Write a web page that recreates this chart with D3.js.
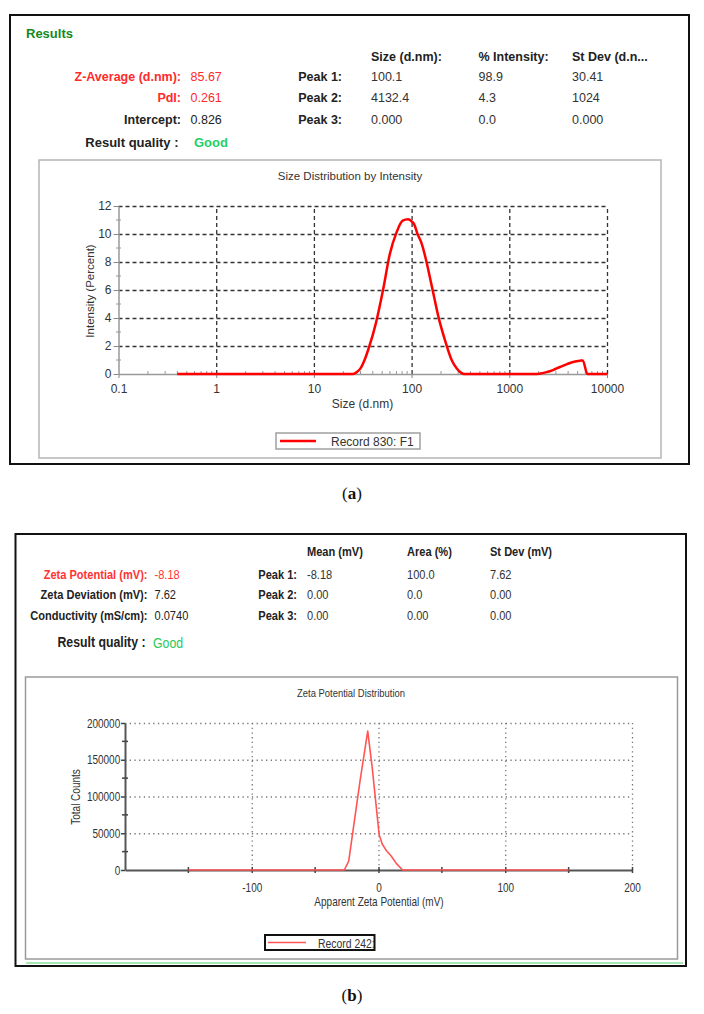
<!DOCTYPE html>
<html>
<head>
<meta charset="utf-8">
<script src="https://cdn.jsdelivr.net/npm/d3@7"></script>
<style>
  html, body { margin: 0; padding: 0; background: #fff; }
  svg { display: block; }
  text { font-family: Arial, "Liberation Sans", sans-serif; }
</style>
</head>
<body>
<svg id="fig" width="704" height="1014"></svg>
<script>
// ---------- DATA: panel (a) size distribution ----------
const sizeNm = [0.4, 25, 27, 30, 33, 37, 43, 51, 60, 70, 81, 92, 100, 106, 115, 127, 140, 154, 170, 188, 220, 257, 290, 320, 345, 1900, 2300, 2800, 3300, 3900, 4600, 5300, 5650, 6300, 10000];
const intensityPct = [0, 0, 0.1, 0.4, 1.0, 2.0, 3.6, 6.0, 8.6, 10.1, 10.95, 11.05, 10.9, 10.7, 10.0, 9.3, 8.2, 6.9, 5.5, 4.1, 2.4, 1.0, 0.4, 0.1, 0, 0, 0.1, 0.28, 0.5, 0.71, 0.88, 0.95, 0.97, 0, 0];
const sizeTicks = [0.1, 1, 10, 100, 1000, 10000];
const intensityTicks = [0, 2, 4, 6, 8, 10, 12];
const intensityMinor = [1, 3, 5, 7, 9, 11];

// ---------- DATA: panel (b) zeta potential ----------
const zetaMv = [-150, -27, -23.5, -20, -14.5, -8.5, -5, -2, 0.5, 3, 6, 10, 14, 19, 150];
const totalCounts = [0, 0, 12000, 55000, 122000, 189000, 140000, 90000, 48000, 35000, 27000, 19000, 9000, 0, 0];
const zetaTicks = [-100, 0, 100, 200];
const zetaMinor = [-150, -50, 50, 150];
const countTicks = [0, 50000, 100000, 150000, 200000];
const countMinor = [25000, 75000, 125000, 175000];

// ---------- DATA: result tables ----------
const sizeHeaders = ["Size (d.nm):", "% Intensity:", "St Dev (d.n..."];
const sizeLeftLabels = ["Z-Average (d.nm):", "PdI:", "Intercept:"];
const sizeLeftValues = ["85.67", "0.261", "0.826"];
const sizePeakLabels = ["Peak 1:", "Peak 2:", "Peak 3:"];
const sizePeakSize = ["100.1", "4132.4", "0.000"];
const sizePeakInt = ["98.9", "4.3", "0.0"];
const sizePeakSd = ["30.41", "1024", "0.000"];

const zetaHeaders = ["Mean (mV)", "Area (%)", "St Dev (mV)"];
const zetaLeftLabels = ["Zeta Potential (mV):", "Zeta Deviation (mV):", "Conductivity (mS/cm):"];
const zetaLeftValues = ["-8.18", "7.62", "0.0740"];
const zetaPeakLabels = ["Peak 1:", "Peak 2:", "Peak 3:"];
const zetaPeakMean = ["-8.18", "0.00", "0.00"];
const zetaPeakArea = ["100.0", "0.0", "0.00"];
const zetaPeakSd = ["7.62", "0.00", "0.00"];

const NARROW = 0.8; // horizontal squeeze emulating a narrow font in panel (b)

const svg = d3.select("#fig");
svg.append("rect").attr("width", 704).attr("height", 1014).attr("fill", "#fff");

function txt(g, x, y, s, opts) {
  const t = g.append("text").attr("x", x).attr("y", y).attr("dy", "0.35em").text(s);
  Object.entries(opts || {}).forEach(([k, v]) => t.attr(k, v));
  return t;
}
function ntxt(g, x, y, s, opts, k) {
  const t = g.append("text").attr("transform", `translate(${x},${y}) scale(${k || NARROW},1)`).attr("dy", "0.35em").text(s);
  Object.entries(opts || {}).forEach(([kk, v]) => t.attr(kk, v));
  return t;
}

// ================= PANEL (a) =================
const A = svg.append("g");
A.append("rect").attr("x", 10).attr("y", 15).attr("width", 679).attr("height", 449)
  .attr("fill", "#fff").attr("stroke", "#111").attr("stroke-width", 2);

const tA = A.append("g").style("font-size", "12.5px");
txt(tA, 26, 33, "Results", { fill: "#15891c", "font-weight": "bold", "font-size": "13px" });
sizeHeaders.forEach((h, i) => txt(tA, [371, 478.5, 572][i], 56.5, h, { fill: "#222", "font-weight": "bold" }));
const rowYA = [76.5, 98, 120];
sizeLeftLabels.forEach((l, i) => {
  const red = i < 2;
  txt(tA, 181, rowYA[i], l, { "text-anchor": "end", "font-weight": "bold", fill: red ? "#ff2a2a" : "#222" });
  txt(tA, 190.5, rowYA[i], sizeLeftValues[i], { fill: red ? "#ff2a2a" : "#222" });
  txt(tA, 342, rowYA[i], sizePeakLabels[i], { "text-anchor": "end", "font-weight": "bold", fill: "#222" });
  txt(tA, 371, rowYA[i], sizePeakSize[i], { fill: "#333" });
  txt(tA, 478.5, rowYA[i], sizePeakInt[i], { fill: "#333" });
  txt(tA, 572, rowYA[i], sizePeakSd[i], { fill: "#333" });
});
txt(tA, 178.5, 142.5, "Result quality :", { "text-anchor": "end", "font-weight": "bold", fill: "#222", "font-size": "13px" });
txt(tA, 194, 142, "Good", { "font-weight": "bold", fill: "#1fcf6a", "font-size": "13px" });

// inner chart box
A.append("rect").attr("x", 39).attr("y", 160).attr("width", 622).attr("height", 298)
  .attr("fill", "#fff").attr("stroke", "#b5b5b5").attr("stroke-width", 1.5);

const xA = d3.scaleLog().domain([0.1, 10000]).range([118.5, 607]);
const yA = d3.scaleLinear().domain([0, 12]).range([374, 206]);
const cA = A.append("g");

txt(cA, 350, 176, "Size Distribution by Intensity", { "text-anchor": "middle", "font-size": "11.5px", fill: "#333" });

// gridlines
const gridA = cA.append("g");
gridA.append("g").attr("transform", "translate(118.5,0)")
  .call(d3.axisLeft(yA).tickValues(intensityTicks.slice(1)).tickSize(-(607 - 118.5)).tickFormat(""))
  .call(g => g.select(".domain").remove());
gridA.append("g").attr("transform", "translate(0,374)")
  .call(d3.axisBottom(xA).tickValues(sizeTicks.slice(1)).tickSize(-(374 - 206)).tickFormat(""))
  .call(g => g.select(".domain").remove());
gridA.selectAll("line").attr("stroke", "#333").attr("stroke-width", 1.3).attr("stroke-dasharray", "4,3");

// axes
const axYA = cA.append("g").attr("transform", "translate(118.5,0)")
  .call(d3.axisLeft(yA).tickValues(intensityTicks).tickSize(5).tickSizeOuter(0).tickPadding(2).tickFormat(d => String(d)));
axYA.select(".domain").attr("stroke", "#999").attr("stroke-width", 1.5);
axYA.selectAll(".tick line").attr("stroke", "#888");
axYA.selectAll("text").attr("fill", "#333").style("font-size", "12px").style("font-family", "Arial, 'Liberation Sans', sans-serif");
cA.append("g").selectAll("line").data(intensityMinor).join("line")
  .attr("x1", 116).attr("x2", 121).attr("y1", d => yA(d)).attr("y2", d => yA(d))
  .attr("stroke", "#999").attr("stroke-width", 1);

const axXA = cA.append("g").attr("transform", "translate(0,374)")
  .call(d3.axisBottom(xA).tickValues(sizeTicks).tickSize(4).tickSizeOuter(0).tickPadding(6).tickFormat(d => String(d)));
axXA.select(".domain").attr("stroke", "#999").attr("stroke-width", 1.5);
axXA.selectAll(".tick line").attr("stroke", "#888");
axXA.selectAll("text").attr("fill", "#333").style("font-size", "12px").style("font-family", "Arial, 'Liberation Sans', sans-serif");
const minorSize = xA.ticks().filter(d => sizeTicks.indexOf(d) < 0);
cA.append("g").selectAll("line").data(minorSize).join("line")
  .attr("x1", d => xA(d)).attr("x2", d => xA(d)).attr("y1", 371).attr("y2", 375)
  .attr("stroke", "#999").attr("stroke-width", 1);

txt(cA, 362.5, 404, "Size (d.nm)", { "text-anchor": "middle", "font-size": "12px", fill: "#333" });
cA.append("text").attr("transform", "translate(90,291) rotate(-90)").attr("text-anchor", "middle").attr("dy", "0.35em")
  .style("font-size", "11.5px").attr("fill", "#333").text("Intensity (Percent)");

// curve
const lineA = d3.line().x((d, i) => xA(sizeNm[i])).y((d, i) => yA(intensityPct[i])).curve(d3.curveMonotoneX);
cA.append("path").datum(intensityPct).attr("d", lineA).attr("fill", "none")
  .attr("stroke", "#ff0000").attr("stroke-width", 2.5).attr("stroke-linejoin", "round");

// legend
cA.append("rect").attr("x", 276).attr("y", 433).attr("width", 144).attr("height", 16)
  .attr("fill", "#fff").attr("stroke", "#a0a0a0").attr("stroke-width", 1.5);
cA.append("line").attr("x1", 280).attr("x2", 316).attr("y1", 441).attr("y2", 441)
  .attr("stroke", "#ff0000").attr("stroke-width", 2.5);
txt(cA, 331, 441.5, "Record 830: F1", { "font-size": "12px", fill: "#333" });

// (a) caption
const capA = svg.append("text").attr("x", 352).attr("y", 493).attr("dy", "0.35em").attr("text-anchor", "middle")
  .style("font-family", "'Liberation Serif', 'DejaVu Serif', serif").style("font-size", "17px").attr("fill", "#111");
capA.append("tspan").text("(");
capA.append("tspan").attr("font-weight", "bold").text("a");
capA.append("tspan").text(")");

// ================= PANEL (b) =================
const B = svg.append("g");
B.append("rect").attr("x", 15.5).attr("y", 534).attr("width", 670.5).attr("height", 432)
  .attr("fill", "#fff").attr("stroke", "#111").attr("stroke-width", 2);

const tB = B.append("g").style("font-size", "13.5px");
const KT = 0.82;
zetaHeaders.forEach((h, i) => ntxt(tB, [307, 407, 490][i], 551.5, h, { fill: "#222", "font-weight": "bold" }, KT));
const rowYB = [574, 594.5, 615];
zetaLeftLabels.forEach((l, i) => {
  const red = i === 0;
  ntxt(tB, 147.5, rowYB[i], l, { "text-anchor": "end", "font-weight": "bold", fill: red ? "#ff3333" : "#222" }, KT);
  ntxt(tB, 154.5, rowYB[i], zetaLeftValues[i], { fill: red ? "#ff3333" : "#222" }, KT);
  ntxt(tB, 297, rowYB[i], zetaPeakLabels[i], { "text-anchor": "end", "font-weight": "bold", fill: "#222" }, KT);
  ntxt(tB, 307, rowYB[i], zetaPeakMean[i], { fill: "#333" }, KT);
  ntxt(tB, 407, rowYB[i], zetaPeakArea[i], { fill: "#333" }, KT);
  ntxt(tB, 490, rowYB[i], zetaPeakSd[i], { fill: "#333" }, KT);
});
ntxt(tB, 145.5, 642, "Result quality :", { "text-anchor": "end", "font-weight": "bold", fill: "#222", "font-size": "15px" }, KT);
ntxt(tB, 153, 643, "Good", { fill: "#2bc85a", "font-size": "15px" }, KT);

// inner chart box
B.append("rect").attr("x", 25.5).attr("y", 677).attr("width", 652).attr("height", 282)
  .attr("fill", "#fff").attr("stroke", "#9a9a9a").attr("stroke-width", 1.5);
B.append("line").attr("x1", 26).attr("x2", 683).attr("y1", 963).attr("y2", 963)
  .attr("stroke", "#a6e8b4").attr("stroke-width", 2);

const xB = d3.scaleLinear().domain([-200, 200]).range([125, 632]);
const yB = d3.scaleLinear().domain([0, 200000]).range([870, 723]);
const cB = B.append("g");

ntxt(cB, 351, 693, "Zeta Potential Distribution", { "text-anchor": "middle", "font-size": "11.8px", fill: "#333" });

const gridB = cB.append("g");
gridB.append("g").attr("transform", "translate(125,0)")
  .call(d3.axisLeft(yB).tickValues(countTicks.slice(1)).tickSize(-(632 - 125)).tickFormat(""))
  .call(g => g.select(".domain").remove());
gridB.append("g").attr("transform", "translate(0,870)")
  .call(d3.axisBottom(xB).tickValues(zetaTicks).tickSize(-(870 - 723)).tickFormat(""))
  .call(g => g.select(".domain").remove());
gridB.selectAll("line").attr("stroke", "#777").attr("stroke-width", 1.3).attr("stroke-dasharray", "1.3,3.4");

const axYB = cB.append("g").attr("transform", "translate(125,0)")
  .call(d3.axisLeft(yB).tickValues(countTicks).tickSize(4).tickSizeOuter(0).tickPadding(2).tickFormat(d => String(d)));
axYB.select(".domain").attr("stroke", "#555").attr("stroke-width", 2);
axYB.selectAll(".tick line").attr("stroke", "#444").attr("stroke-width", 1.5);
axYB.selectAll("text").attr("fill", "#333").style("font-size", "12.5px")
  .attr("transform", `scale(${NARROW},1)`);
cB.append("g").selectAll("line").data(countMinor).join("line")
  .attr("x1", 122).attr("x2", 128).attr("y1", d => yB(d)).attr("y2", d => yB(d))
  .attr("stroke", "#444").attr("stroke-width", 1.5);

const axXB = cB.append("g").attr("transform", "translate(0,870)")
  .call(d3.axisBottom(xB).tickValues(zetaTicks).tickSize(3).tickSizeOuter(0).tickPadding(10).tickFormat(d => String(d)));
axXB.select(".domain").attr("stroke", "#555").attr("stroke-width", 2);
axXB.selectAll(".tick line").attr("stroke", "#444").attr("stroke-width", 1.5).attr("y1", -3);
axXB.selectAll("text").attr("fill", "#333").style("font-size", "12.5px")
  .attr("transform", `scale(${NARROW},1)`);
cB.append("g").selectAll("line").data(zetaMinor).join("line")
  .attr("x1", d => xB(d)).attr("x2", d => xB(d)).attr("y1", 867).attr("y2", 873)
  .attr("stroke", "#444").attr("stroke-width", 1.5);

ntxt(cB, 379, 902, "Apparent Zeta Potential (mV)", { "text-anchor": "middle", "font-size": "12.5px", fill: "#333" });
cB.append("text").attr("transform", `translate(76,797) rotate(-90) scale(${NARROW},1)`).attr("text-anchor", "middle").attr("dy", "0.35em")
  .style("font-size", "12.5px").attr("fill", "#333").text("Total Counts");

const lineB = d3.line().x((d, i) => xB(zetaMv[i])).y((d, i) => yB(totalCounts[i]));
cB.append("path").datum(totalCounts).attr("d", lineB).attr("fill", "none")
  .attr("stroke", "#ff5555").attr("stroke-width", 1.6).attr("stroke-linejoin", "round");

// legend
cB.append("rect").attr("x", 265).attr("y", 935).attr("width", 109.5).attr("height", 15)
  .attr("fill", "#fff").attr("stroke", "#111").attr("stroke-width", 2);
cB.append("line").attr("x1", 268).attr("x2", 306).attr("y1", 942.5).attr("y2", 942.5)
  .attr("stroke", "#ff5555").attr("stroke-width", 1.6);
ntxt(cB, 318, 943, "Record 242:", { "font-size": "13px", fill: "#333" });

// (b) caption
const capB = svg.append("text").attr("x", 352).attr("y", 995).attr("dy", "0.35em").attr("text-anchor", "middle")
  .style("font-family", "'Liberation Serif', 'DejaVu Serif', serif").style("font-size", "17px").attr("fill", "#111");
capB.append("tspan").text("(");
capB.append("tspan").attr("font-weight", "bold").text("b");
capB.append("tspan").text(")");
</script>
</body>
</html>
